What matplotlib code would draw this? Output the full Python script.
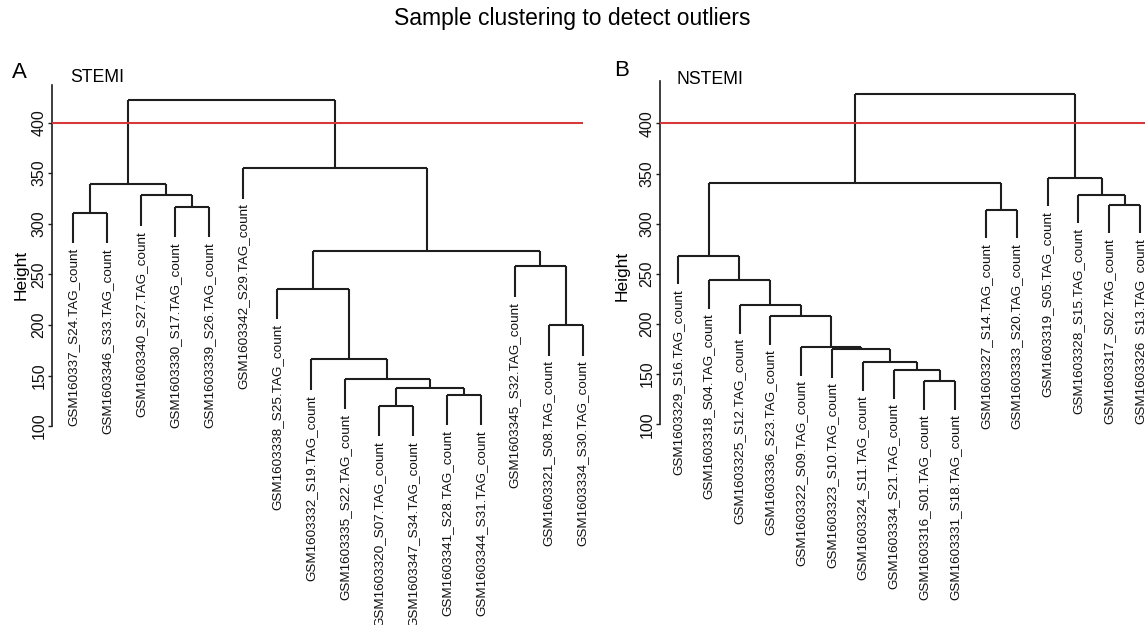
import matplotlib.pyplot as plt

plt.rcParams['font.family'] = ['Liberation Sans', 'DejaVu Sans']

# --- Data: leaf order and merge table (R hclust style: -k = leaf k, +k = row k) ---
stemi_labels = [
    "GSM160337_S24.TAG_count", "GSM1603346_S33.TAG_count", "GSM1603340_S27.TAG_count",
    "GSM1603330_S17.TAG_count", "GSM1603339_S26.TAG_count", "GSM1603342_S29.TAG_count",
    "GSM1603338_S25.TAG_count", "GSM1603332_S19.TAG_count", "GSM1603335_S22.TAG_count",
    "GSM1603320_S07.TAG_count", "GSM1603347_S34.TAG_count", "GSM1603341_S28.TAG_count",
    "GSM1603344_S31.TAG_count", "GSM1603345_S32.TAG_count", "GSM1603321_S08.TAG_count",
    "GSM1603334_S30.TAG_count",
]
stemi_merge = [(-10, -11), (-12, -13), (1, 2), (-9, 3), (-8, 4), (-15, -16), (-7, 5),
               (-14, 6), (7, 8), (-1, -2), (-4, -5), (-3, 11), (10, 12), (-6, 9), (13, 14)]
stemi_height = [120, 131, 138, 147, 166, 200, 236, 258, 273, 311, 317, 328, 339, 355, 422]

nstemi_labels = [
    "GSM1603329_S16.TAG_count", "GSM1603318_S04.TAG_count", "GSM1603325_S12.TAG_count",
    "GSM1603336_S23.TAG_count", "GSM1603322_S09.TAG_count", "GSM1603323_S10.TAG_count",
    "GSM1603324_S11.TAG_count", "GSM1603334_S21.TAG_count", "GSM1603316_S01.TAG_count",
    "GSM1603331_S18.TAG_count", "GSM1603327_S14.TAG_count", "GSM1603333_S20.TAG_count",
    "GSM1603319_S05.TAG_count", "GSM1603328_S15.TAG_count", "GSM1603317_S02.TAG_count",
    "GSM1603326_S13.TAG_count",
]
nstemi_merge = [(-9, -10), (-8, 1), (-7, 2), (-6, 3), (-5, 4), (-4, 5), (-3, 6), (-2, 7),
                (-1, 8), (-11, -12), (-15, -16), (-14, 11), (9, 10), (-13, 12), (13, 14)]
nstemi_height = [143, 154, 162, 175, 177, 208, 219, 244, 268, 314, 319, 329, 341, 346, 429]

cut_height = 400
yticks = [100, 150, 200, 250, 300, 350, 400]

LINE = "#1e1e1e"
RED = "#d9383a"


def draw_tree(ax, labels, merge, height):
    hang = 0.1 * (max(height) - min(height))
    node_x = []
    for (a, b), h in zip(merge, height):
        cx = []
        for c in (a, b):
            if c < 0:
                x = -c
                bottom = h - hang
                ax.annotate(labels[x - 1], xy=(x, bottom), xytext=(0, -3.5),
                            textcoords="offset points", rotation=90, ha="center",
                            va="top", fontsize=9.7, color="#111111",
                            annotation_clip=False)
            else:
                x = node_x[c - 1]
                bottom = height[c - 1]
            ax.plot([x, x], [bottom, h], color=LINE, lw=1.5, solid_capstyle="butt")
            cx.append(x)
        ax.plot(cx, [h, h], color=LINE, lw=1.5, solid_capstyle="butt")
        node_x.append(sum(cx) / 2)


def style_axis(ax, top):
    for s in ["top", "right", "bottom"]:
        ax.spines[s].set_visible(False)
    ax.spines["left"].set_bounds(100, top)
    ax.spines["left"].set_linewidth(1.2)
    ax.spines["left"].set_color(LINE)
    ax.set_xticks([])
    ax.set_yticks(yticks)
    ax.set_yticklabels([str(t) for t in yticks], rotation=90, va="center", fontsize=11.5)
    ax.tick_params(axis="y", length=3, width=1, pad=1, colors=LINE, labelcolor="#111111")
    ax.patch.set_alpha(0)


fig = plt.figure(figsize=(11.45, 6.25), dpi=100)
W, H = 1145, 625

# left panel: STEMI
ax1 = fig.add_axes([52 / W, 0, 551 / W, 565 / H])
ax1.set_xlim(0.382, 16.59)
ax1.set_ylim(-96.5, 461.8)
draw_tree(ax1, stemi_labels, stemi_merge, stemi_height)
ax1.hlines(cut_height, 0.382, len(stemi_labels), color=RED, lw=1.5, zorder=3)
style_axis(ax1, 437)

# right panel: NSTEMI
ax2 = fig.add_axes([660 / W, 0, 485 / W, 565 / H])
ax2.set_xlim(0.416, 16.16)
ax2.set_ylim(-100.2, 463.3)
draw_tree(ax2, nstemi_labels, nstemi_merge, nstemi_height)
ax2.axhline(cut_height, color=RED, lw=1.5, zorder=3)
style_axis(ax2, 442)

fig.text(572 / W, 1 - 18 / H, "Sample clustering to detect outliers",
         ha="center", va="center", fontsize=16.5)
fig.text(12 / W, 1 - 72 / H, "A", ha="left", va="center", fontsize=16)
fig.text(614 / W, 1 - 71 / H, "B", ha="left", va="center", fontsize=16)
fig.text(70 / W, 1 - 78 / H, "STEMI", ha="left", va="center", fontsize=12.7)
fig.text(677 / W, 1 - 79 / H, "NSTEMI", ha="left", va="center", fontsize=12.7)
fig.text(21 / W, 1 - 275 / H, "Height", rotation=90, ha="center", va="center", fontsize=12.5)
fig.text(622 / W, 1 - 276 / H, "Height", rotation=90, ha="center", va="center", fontsize=12.5)

fig.savefig("out.png", dpi=100)
